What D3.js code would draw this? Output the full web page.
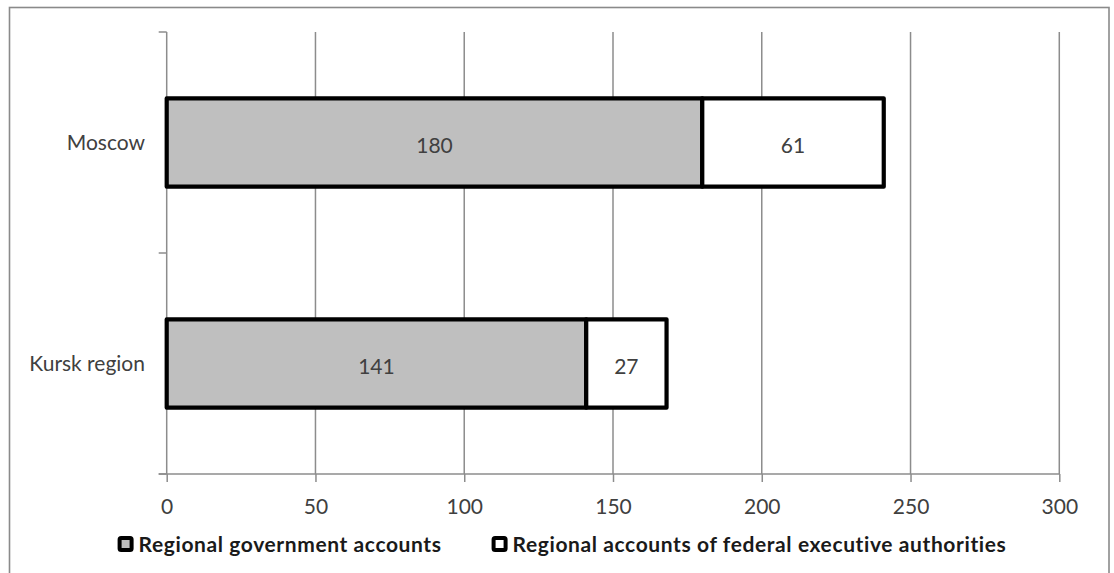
<!DOCTYPE html>
<html>
<head>
<meta charset="utf-8">
<script src="https://cdn.jsdelivr.net/npm/d3@7"></script>
<style>
  html, body { margin: 0; padding: 0; background: #fff; }
  svg { display: block; }
  text { font-family: Lato, "Open Sans", sans-serif; }
</style>
</head>
<body>
<svg id="chart" width="1114" height="573"></svg>
<script>
// ---- data ----
const categories = ["Moscow", "Kursk region"];
const seriesNames = ["Regional government accounts", "Regional accounts of federal executive authorities"];
const regionalGov = [180, 141];
const federalExec = [61, 27];
const xTicks = [0, 50, 100, 150, 200, 250, 300];

const seriesFill = ["#bfbfbf", "#ffffff"];

const svg = d3.select("#chart");

// outer chart border (bottom edge is cropped off in the reference)
svg.append("rect")
  .attr("x", 9.5).attr("y", 7.5)
  .attr("width", 1099.5).attr("height", 620)
  .attr("fill", "#fff")
  .attr("stroke", "#8a8a8a").attr("stroke-width", 1.6);

const plot = { left: 166.7, right: 1059.3, top: 32, bottom: 474 };

const x = d3.scaleLinear().domain([0, 300]).range([plot.left, plot.right]);
const y = d3.scaleBand().domain(categories).range([plot.top, plot.bottom])
  .paddingInner(0.6).paddingOuter(0.3);

// vertical gridlines
svg.append("g").selectAll("line")
  .data(xTicks.filter(d => d !== 0))
  .join("line")
  .attr("x1", d => x(d)).attr("x2", d => x(d))
  .attr("y1", plot.top).attr("y2", plot.bottom)
  .attr("stroke", "#8c8c8c").attr("stroke-width", 1.5);

// x axis
const xAxis = svg.append("g")
  .attr("transform", `translate(0,${plot.bottom})`)
  .call(d3.axisBottom(x).tickValues(xTicks).tickSize(8).tickPadding(17).tickSizeOuter(0));
xAxis.select(".domain").remove();
xAxis.append("line")
  .attr("x1", plot.left - 8).attr("x2", plot.right)
  .attr("y1", 0).attr("y2", 0)
  .attr("stroke", "#8c8c8c").attr("stroke-width", 1.5);
xAxis.selectAll(".tick line").attr("stroke", "#8c8c8c").attr("stroke-width", 1.5);
xAxis.selectAll(".tick text")
  .attr("fill", "#404040").style("font-size", "21px")
  .style("font-family", "Lato, sans-serif");

// y axis (category axis) line and ticks at band boundaries
const yAxis = svg.append("g");
yAxis.append("line")
  .attr("x1", plot.left).attr("x2", plot.left)
  .attr("y1", plot.top).attr("y2", plot.bottom)
  .attr("stroke", "#8c8c8c").attr("stroke-width", 1.5);
const boundaries = d3.range(categories.length + 1).map(i => plot.top + i * y.step());
yAxis.selectAll(".ytick").data(boundaries).join("line")
  .attr("class", "ytick")
  .attr("x1", plot.left - 8).attr("x2", plot.left)
  .attr("y1", d => d).attr("y2", d => d)
  .attr("stroke", "#8c8c8c").attr("stroke-width", 1.5);
yAxis.selectAll(".ylab").data(categories).join("text")
  .attr("class", "ylab")
  .attr("x", 145)
  .attr("y", d => y(d) + y.bandwidth() / 2)
  .attr("dy", "0.36em")
  .attr("text-anchor", "end")
  .attr("fill", "#404040")
  .style("font-size", "21px")
  .text(d => d);

// stacked bars
const rows = categories.map((c, i) => ({ cat: c, vals: [regionalGov[i], federalExec[i]] }));
const segs = [];
rows.forEach(r => {
  let acc = 0;
  r.vals.forEach((v, s) => {
    segs.push({ cat: r.cat, s, x0: acc, x1: acc + v, v });
    acc += v;
  });
});

svg.append("g").selectAll("rect").data(segs).join("rect")
  .attr("x", d => x(d.x0))
  .attr("y", d => y(d.cat))
  .attr("width", d => x(d.x1) - x(d.x0))
  .attr("height", y.bandwidth())
  .attr("fill", d => seriesFill[d.s])
  .attr("stroke", "#000")
  .attr("stroke-width", 4.2)
  .attr("stroke-linejoin", "round");

svg.append("g").selectAll("text").data(segs).join("text")
  .attr("x", d => (x(d.x0) + x(d.x1)) / 2)
  .attr("y", d => y(d.cat) + y.bandwidth() / 2 + 3)
  .attr("dy", "0.36em")
  .attr("text-anchor", "middle")
  .attr("fill", "#404040")
  .style("font-size", "21px")
  .text(d => d.v);

// legend
const legend = svg.append("g");
const items = legend.selectAll("g").data(seriesNames).join("g");
items.append("rect")
  .attr("x", 2).attr("y", -6).attr("width", 12).attr("height", 12)
  .attr("rx", 1.5)
  .attr("fill", (d, i) => seriesFill[i])
  .attr("stroke", "#000").attr("stroke-width", 4)
  .attr("stroke-linejoin", "round");
items.append("text")
  .attr("x", 21).attr("y", 0).attr("dy", "0.36em")
  .attr("fill", "#1a1a1a")
  .style("font-size", "21px").style("font-weight", "bold")
  .style("letter-spacing", "0.6px")
  .text(d => d);
const itemW = [];
items.each(function () {
  itemW.push(21 + d3.select(this).select("text").node().getComputedTextLength());
});
const gap = 50;
const total = d3.sum(itemW) + gap * (itemW.length - 1);
let lx = 562 - total / 2;
items.attr("transform", (d, i) => {
  const t = `translate(${lx},544)`;
  lx += itemW[i] + gap;
  return t;
});
</script>
</body>
</html>
